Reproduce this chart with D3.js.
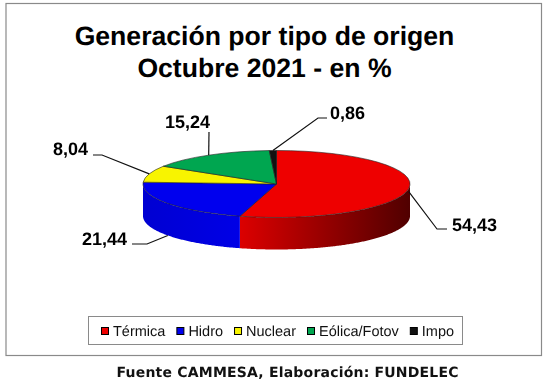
<!DOCTYPE html>
<html>
<head>
<meta charset="utf-8">
<script src="https://cdn.jsdelivr.net/npm/d3@7"></script>
<style>
  html, body { margin: 0; padding: 0; background: #fff; }
  svg { display: block; filter: blur(0.35px); text-rendering: geometricPrecision; }
</style>
</head>
<body>
<div id="viz"></div>
<script>
const titleLines = ['Generación por tipo de origen', 'Octubre 2021 - en %'];
const sourceText = 'Fuente CAMMESA, Elaboración: FUNDELEC';
const categories = ['Térmica', 'Hidro', 'Nuclear', 'Eólica/Fotov', 'Impo'];
const values = [54.43, 21.44, 8.04, 15.24, 0.86];
const valueLabels = ['54,43', '21,44', '8,04', '15,24', '0,86'];
const colors = ['#ee0000', '#0000ee', '#f8f400', '#00a650', '#111111'];

const width = 545;
const height = 383;

const svg = d3.select('#viz').append('svg')
  .attr('width', width)
  .attr('height', height);

// outer frame of the chart
svg.append('rect')
  .attr('x', 6)
  .attr('y', 3.5)
  .attr('width', 535.5)
  .attr('height', 352)
  .style('fill', '#fff')
  .style('stroke', '#8a8a8a')
  .style('stroke-width', 1.2);

svg.append('g').selectAll('text')
  .data(titleLines)
  .enter().append('text')
  .attr('x', 264.5)
  .attr('y', (d, i) => 45 + i * 32)
  .attr('text-anchor', 'middle')
  .style('font-family', '"Liberation Sans", Arial, sans-serif')
  .style('font-weight', 'bold')
  .style('font-size', '26.6px')
  .style('fill', '#000')
  .text(d => d);

// pie geometry, tilted disc
const cx = 276.5;
const cy = 184;
const rx = 133.5;
const ry = 33.5;
const depth = 32;

const pie = d3.pie().sort(null).value(d => d.value);
const slices = pie(categories.map((name, i) => ({ name, value: values[i], color: colors[i], label: valueLabels[i] })));

const px = a => cx + rx * Math.sin(a);
const py = a => cy - ry * Math.cos(a);

const defs = svg.append('defs');

// side of the disc only shows on the front half
const wallArea = d3.area()
  .x(a => px(a))
  .y0(a => py(a))
  .y1(a => py(a) + depth);

const wallShade = {
  'Térmica': ['#dc0000', '#500000'],
  'Hidro': ['#0000d2', '#0000e6']
};

const pieGroup = svg.append('g');

slices.forEach((s, i) => {
  const start = Math.max(s.startAngle, Math.PI / 2);
  const end = Math.min(s.endAngle, Math.PI * 1.5);
  if (end <= start) return;

  const angles = d3.range(start, end, 0.01).concat([end]);
  const shade = wallShade[s.data.name];
  const grad = defs.append('linearGradient')
    .attr('id', `wall-${i}`)
    .attr('gradientUnits', 'userSpaceOnUse')
    .attr('x1', d3.min(angles, px))
    .attr('x2', d3.max(angles, px))
    .attr('y1', 0)
    .attr('y2', 0);
  grad.append('stop').attr('offset', '0%').attr('stop-color', shade[0]);
  grad.append('stop').attr('offset', '100%').attr('stop-color', shade[1]);

  pieGroup.append('path')
    .attr('d', wallArea(angles))
    .style('fill', `url(#wall-${i})`)
    .style('stroke', 'none');
});

const arc = d3.arc().innerRadius(0).outerRadius(rx);

pieGroup.append('g')
  .attr('transform', `translate(${cx},${cy}) scale(1,${ry / rx})`)
  .selectAll('path')
  .data(slices)
  .enter().append('path')
  .attr('d', arc)
  .style('fill', d => d.data.color)
  .style('stroke', '#222')
  .style('stroke-width', 0.6)
  .attr('vector-effect', 'non-scaling-stroke');

// leader lines start on the rim at the slice's middle angle
const leaders = {
  'Térmica': { dy: 3, bend: [[437, 229], [447, 229]], text: [452, 231] },
  'Hidro': { dy: depth, bend: [[147, 244], [132, 244]], text: [82, 245] },
  'Nuclear': { dy: 0, bend: [[102, 155], [93, 155]], text: [53, 155] },
  'Eólica/Fotov': { dy: 0, bend: [[209, 132]], text: [165, 128] },
  'Impo': { dy: 0, bend: [[318, 118], [327, 118]], text: [330, 118.5] }
};

const lineGen = d3.line();

slices.forEach(s => {
  const mid = (s.startAngle + s.endAngle) / 2;
  const l = leaders[s.data.name];
  const pts = [[px(mid), py(mid) + l.dy]].concat(l.bend);

  svg.append('path')
    .attr('d', lineGen(pts))
    .style('fill', 'none')
    .style('stroke', '#111')
    .style('stroke-width', 1.2);

  svg.append('text')
    .attr('x', l.text[0])
    .attr('y', l.text[1])
    .style('font-family', '"Liberation Sans", Arial, sans-serif')
    .style('font-weight', 'bold')
    .style('font-size', '18px')
    .style('fill', '#000')
    .text(s.data.label);
});

// legend
svg.append('rect')
  .attr('x', 88.5)
  .attr('y', 316.5)
  .attr('width', 374)
  .attr('height', 28)
  .style('fill', '#fff')
  .style('stroke', '#8a8a8a')
  .style('stroke-width', 1);

let legendX = 101;
categories.forEach((name, i) => {
  svg.append('rect')
    .attr('x', legendX + 0.5)
    .attr('y', 327.5)
    .attr('width', 7)
    .attr('height', 7)
    .style('fill', colors[i])
    .style('stroke', '#000')
    .style('stroke-width', 1);

  const t = svg.append('text')
    .attr('x', legendX + 12)
    .attr('y', 336)
    .style('font-family', '"Liberation Sans", Arial, sans-serif')
    .style('font-size', '14.5px')
    .style('fill', '#111')
    .text(name);

  legendX += 12 + t.node().getComputedTextLength() + 11;
});

svg.append('text')
  .attr('x', 116.5)
  .attr('y', 376.7)
  .style('font-family', '"DejaVu Sans", Verdana, sans-serif')
  .style('font-weight', 'bold')
  .style('font-size', '14px')
  .style('letter-spacing', '0.2px')
  .style('fill', '#111')
  .text(sourceText);
</script>
</body>
</html>
